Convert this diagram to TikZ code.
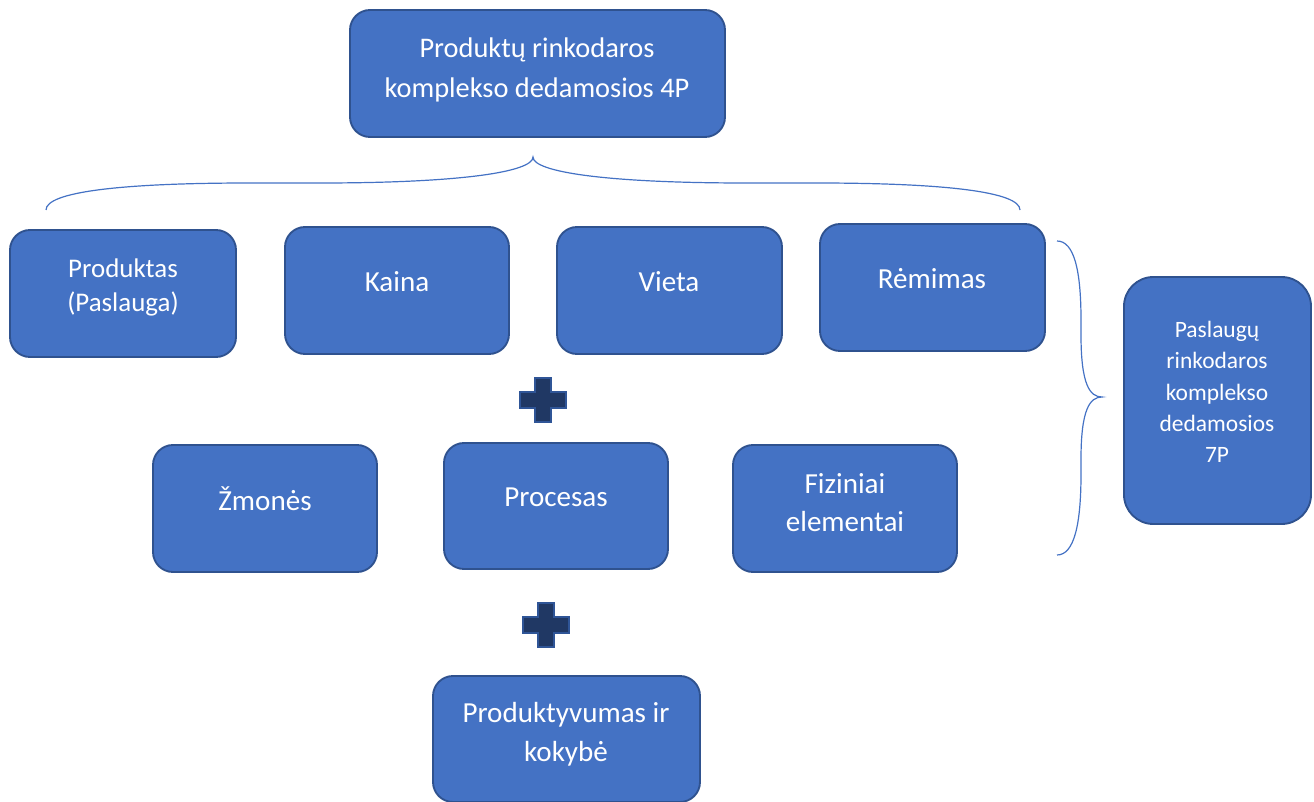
\documentclass[tikz,border=0pt]{standalone}
\usepackage{fontspec}
\setmainfont{Carlito}
\usetikzlibrary{fit}
\definecolor{boxfill}{HTML}{4472C4}
\definecolor{boxline}{HTML}{2F528F}
\definecolor{plusfill}{HTML}{203864}
\definecolor{plusline}{HTML}{2F5597}
\begin{document}
\begin{tikzpicture}[x=0.75pt,y=-0.75pt,
  box/.style={draw=boxline, fill=boxfill, line width=1.4pt, rounded corners=15pt, inner sep=0pt},
  bigbox/.style={box, rounded corners=22pt},
  txt/.style={text=white, align=center, inner sep=0pt, font=\fontsize{21.8}{28.5}\selectfont},
  smalltxt/.style={txt, font=\fontsize{17.6}{23.5}\selectfont},
  brace/.style={draw=boxfill, line width=0.9pt},
  plusmark/.style={draw=plusline, fill=plusfill, line width=1.5pt}]
\useasboundingbox (0,0) rectangle (1314,802);

% boxes
\node[box, fit={(350,10) (725,137)}] (top) {};
\node[box, fit={(10,230) (236,357)}] (prod) {};
\node[box, fit={(285,227) (509,354)}] (kaina) {};
\node[box, fit={(557,227) (782,354)}] (vieta) {};
\node[box, fit={(820,224) (1045,351)}] (remimas) {};
\node[box, fit={(153,445) (377,572)}] (zmones) {};
\node[box, fit={(444,443) (668,569)}] (procesas) {};
\node[box, fit={(733,445) (957,572)}] (fiziniai) {};
\node[box, fit={(433,676) (700,802)}] (kokybe) {};
\node[bigbox, fit={(1124,277) (1311,524)}] (sevenp) {};

% texts
\node[txt, font=\fontsize{21.3}{30}\selectfont] (top-t) at (537,70) {Produktų rinkodaros\\komplekso dedamosios 4P};
\node[txt, font=\fontsize{20.2}{25.5}\selectfont] (prod-t) at (123,287) {Produktas\\(Paslauga)};
\node[txt] (kaina-t) at (397,282) {Kaina};
\node[txt] (vieta-t) at (669,282) {Vieta};
\node[txt] (remimas-t) at (932,279) {Rėmimas};
\node[txt] (zmones-t) at (265,499) {Žmonės};
\node[txt] (procesas-t) at (556,497) {Procesas};
\node[txt] (fiziniai-t) at (845,503) {Fiziniai\\elementai};
\node[txt, font=\fontsize{21.8}{29.2}\selectfont] (kokybe-t) at (566,734) {Produktyvumas ir\\kokybė};
\node[smalltxt] (sevenp-t) at (1217,392) {Paslaugų\\rinkodaros\\komplekso\\dedamosios\\7P};

% plus signs
\foreach \cx/\cy in {543/400, 546/625}{
  \draw[plusmark] (\cx-8,\cy-22) -- (\cx+8,\cy-22) -- (\cx+8,\cy-8) -- (\cx+23,\cy-8)
    -- (\cx+23,\cy+8) -- (\cx+8,\cy+8) -- (\cx+8,\cy+22) -- (\cx-8,\cy+22)
    -- (\cx-8,\cy+8) -- (\cx-23,\cy+8) -- (\cx-23,\cy-8) -- (\cx-8,\cy-8) -- cycle;
}

% top brace
\coordinate (tbl) at (46,210);
\coordinate (tbt) at (533,157);
\coordinate (tbr) at (1020,210);
\draw[brace] (tbl) .. controls (46,192) and (120,183) .. (250,183) -- (320,183)
  .. controls (460,183) and (533,172) .. (tbt)
  .. controls (533,172) and (606,183) .. (746,183) -- (816,183)
  .. controls (946,183) and (1020,192) .. (tbr);

% right brace
\coordinate (rbt) at (1057,241);
\coordinate (rbm) at (1102,397);
\coordinate (rbb) at (1057,555);
\draw[brace] (rbt) .. controls (1074,241) and (1081,270) .. (1081,320) -- (1081,335)
  .. controls (1081,385) and (1090,397) .. (rbm)
  .. controls (1090,397) and (1081,409) .. (1081,459) -- (1081,474)
  .. controls (1081,525) and (1074,555) .. (rbb);
\end{tikzpicture}
\end{document}
